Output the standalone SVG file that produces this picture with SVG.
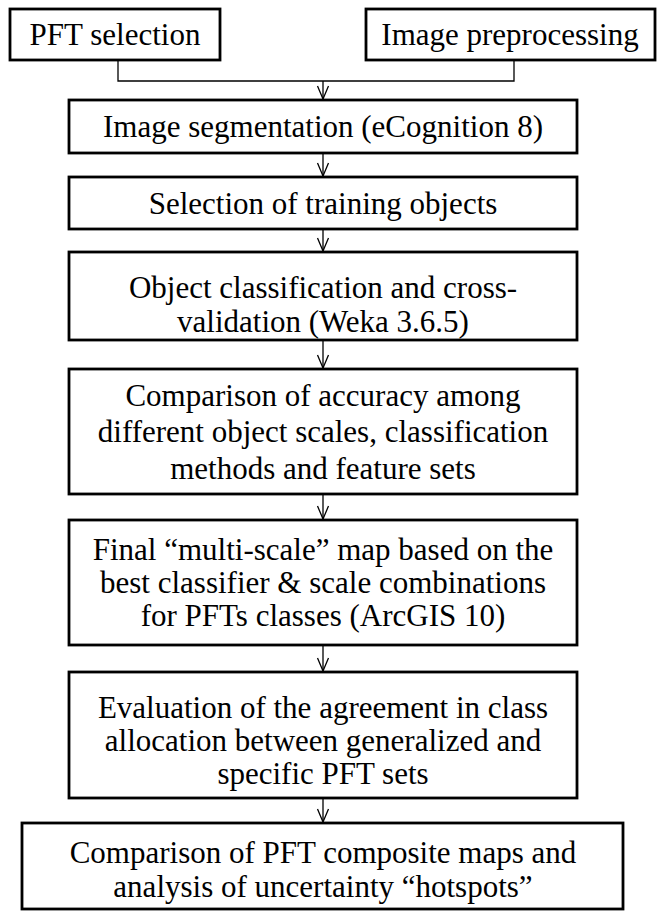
<svg xmlns="http://www.w3.org/2000/svg" width="661" height="911" viewBox="0 0 661 911">
<style>
.box{fill:#fff;stroke:#000;stroke-width:2.8}
.t{font-size:31px;fill:#000;text-anchor:middle}
.c{fill:none;stroke:#000;stroke-width:1.3}
</style>
<defs>
<marker id="ah" markerUnits="userSpaceOnUse" markerWidth="16" markerHeight="14" refX="0" refY="0" orient="auto" viewBox="-15 -7 16 14">
<path d="M-13,-5.5 L0,0 L-13,5.5" fill="none" stroke="#000" stroke-width="1.3"/>
</marker>
</defs>
<rect width="661" height="911" fill="#fff"/>
<g id="connectors">
<path class="c" d="M118,60 V81 H514 V60"/>
<path class="c" d="M323,81 V99" marker-end="url(#ah)"/>
<path class="c" d="M323,153 V176" marker-end="url(#ah)"/>
<path class="c" d="M323,229 V251" marker-end="url(#ah)"/>
<path class="c" d="M323,340 V368" marker-end="url(#ah)"/>
<path class="c" d="M323,494 V519" marker-end="url(#ah)"/>
<path class="c" d="M323,645 V671" marker-end="url(#ah)"/>
<path class="c" d="M323,798 V822" marker-end="url(#ah)"/>
</g>
<g font-family="'Liberation Serif', 'Times New Roman', serif">
<g id="pft">
<rect class="box" x="10" y="9" width="210" height="51"/>
<text class="t" x="115" y="45">PFT selection</text>
</g>
<g id="preproc">
<rect class="box" x="366" y="9" width="289" height="51"/>
<text class="t" x="510" y="45">Image preprocessing</text>
</g>
<g id="segmentation">
<rect class="box" x="69" y="100" width="508" height="53"/>
<text class="t" x="323" y="137">Image segmentation (eCognition 8)</text>
</g>
<g id="training">
<rect class="box" x="69" y="177" width="508" height="52"/>
<text class="t" x="323" y="214">Selection of training objects</text>
</g>
<g id="classification">
<rect class="box" x="69" y="252" width="508" height="88"/>
<text class="t" x="323" y="298">Object classification  and cross-</text>
<text class="t" x="323" y="332">validation (Weka 3.6.5)</text>
</g>
<g id="accuracy">
<rect class="box" x="69" y="369" width="508" height="125"/>
<text class="t" x="323" y="406">Comparison of  accuracy  among</text>
<text class="t" x="323" y="442">different object scales, classification</text>
<text class="t" x="323" y="479">methods and feature sets</text>
</g>
<g id="final">
<rect class="box" x="69" y="520" width="508" height="125"/>
<text class="t" x="323" y="560">Final “multi-scale”  map based on the</text>
<text class="t" x="323" y="593">best classifier  &amp; scale combinations</text>
<text class="t" x="323" y="626">for PFTs classes  (ArcGIS  10)</text>
</g>
<g id="evaluation">
<rect class="box" x="69" y="672" width="508" height="126"/>
<text class="t" x="323" y="718">Evaluation of the agreement  in class</text>
<text class="t" x="323" y="751">allocation between generalized  and</text>
<text class="t" x="323" y="784">specific PFT sets</text>
</g>
<g id="composite">
<rect class="box" x="22" y="823" width="601" height="86"/>
<text class="t" x="323" y="863">Comparison of PFT composite maps and</text>
<text class="t" x="323" y="897">analysis of uncertainty “hotspots”</text>
</g>
</g>
</svg>
